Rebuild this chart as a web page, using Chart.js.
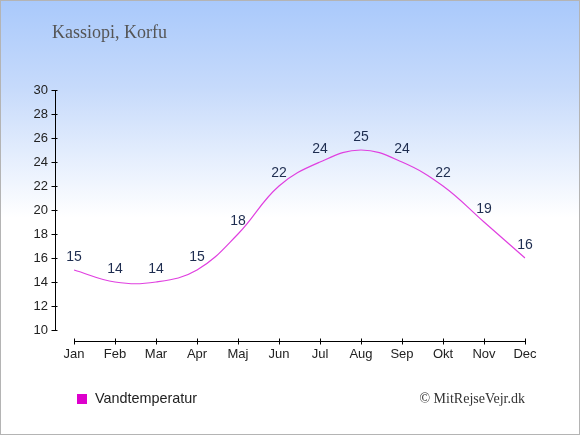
<!DOCTYPE html>
<html>
<head>
<meta charset="utf-8">
<script src="https://cdn.jsdelivr.net/npm/chart.js@4"></script>
<style>
html,body{margin:0;padding:0;background:#fff;}
#wrap{width:580px;height:435px;position:relative;}
</style>
</head>
<body>
<div id="wrap"><canvas id="c" width="580" height="435"></canvas></div>
<script>
const titleText = 'Kassiopi, Korfu';
const copyrightText = '\u00A9 MitRejseVejr.dk';
const months = ['Jan','Feb','Mar','Apr','Maj','Jun','Jul','Aug','Sep','Okt','Nov','Dec'];
const seriesLabel = 'Vandtemperatur';
const waterTemp = [15,14,14,15,18,22,24,25,24,22,19,16];
const yMin = 10, yMax = 30, yStep = 2;

const LINE_COLOR = '#e040e0';
const LEGEND_COLOR = '#dd00cc';
const TEXT_COLOR = '#222222';
const LABEL_COLOR = '#1e2d50';
const AXIS_GAP = 19;   // y-axis line offset left of first category
const XAXIS_GAP = 11;  // x-axis line offset below plot bottom

const decor = {
  id: 'decor',
  beforeDraw(chart) {
    const {ctx, width, height} = chart;
    const g = ctx.createLinearGradient(0, 0, 0, height);
    g.addColorStop(0, '#a9c9fb');
    g.addColorStop(0.2, '#c6dafb');
    g.addColorStop(0.5, '#ffffff');
    g.addColorStop(1, '#ffffff');
    ctx.save();
    ctx.fillStyle = g;
    ctx.fillRect(0, 0, width, height);
    ctx.strokeStyle = '#b4b4b4';
    ctx.lineWidth = 1;
    ctx.strokeRect(0.5, 0.5, width - 1, height - 1);
    ctx.restore();
  },
  afterDraw(chart) {
    const {ctx, chartArea, scales} = chart;
    const xs = scales.x, ys = scales.y;
    ctx.save();
    ctx.strokeStyle = '#000';
    ctx.lineWidth = 1;
    // y axis
    const ax = Math.round(chartArea.left - AXIS_GAP) + 0.5;
    ctx.beginPath();
    ctx.moveTo(ax, ys.getPixelForValue(yMax));
    ctx.lineTo(ax, ys.getPixelForValue(yMin));
    ys.ticks.forEach(t => {
      const y = Math.round(ys.getPixelForValue(t.value)) + 0.5;
      ctx.moveTo(ax - 4, y);
      ctx.lineTo(ax + 2, y);
    });
    ctx.stroke();
    // x axis
    const ay = Math.round(chartArea.bottom + XAXIS_GAP) + 0.5;
    ctx.beginPath();
    ctx.moveTo(xs.getPixelForValue(0), ay);
    ctx.lineTo(xs.getPixelForValue(months.length - 1), ay);
    months.forEach((m, i) => {
      const x = Math.round(xs.getPixelForValue(i)) + 0.5;
      ctx.moveTo(x, ay - 3);
      ctx.lineTo(x, ay + 3);
    });
    ctx.stroke();

    // data labels
    const meta = chart.getDatasetMeta(0);
    ctx.fillStyle = LABEL_COLOR;
    ctx.font = '14px "Liberation Sans", Arial, sans-serif';
    ctx.textAlign = 'center';
    ctx.textBaseline = 'middle';
    meta.data.forEach((pt, i) => {
      ctx.fillText(String(Math.round(waterTemp[i])), pt.x, pt.y - 13);
    });

    // title
    ctx.fillStyle = '#555555';
    ctx.font = '18px "Liberation Serif", "DejaVu Serif", serif';
    ctx.textAlign = 'left';
    ctx.textBaseline = 'alphabetic';
    ctx.fillText(titleText, 52, 38);

    // legend
    ctx.fillStyle = LEGEND_COLOR;
    ctx.fillRect(77, 394, 10, 10);
    ctx.fillStyle = TEXT_COLOR;
    ctx.font = '14.4px "Liberation Sans", Arial, sans-serif';
    ctx.textBaseline = 'middle';
    ctx.fillText(chart.data.datasets[0].label, 95, 399);

    // copyright
    ctx.fillStyle = '#333333';
    ctx.font = '14px "Liberation Serif", "DejaVu Serif", serif';
    ctx.textAlign = 'right';
    ctx.fillText(copyrightText, 525, 399);
    ctx.restore();
  }
};

new Chart(document.getElementById('c'), {
  type: 'line',
  data: {
    labels: months,
    datasets: [{
      label: seriesLabel,
      data: waterTemp,
      borderColor: LINE_COLOR,
      backgroundColor: LEGEND_COLOR,
      borderWidth: 1.2,
      pointRadius: 0,
      tension: 0.4,
      fill: false
    }]
  },
  options: {
    responsive: false,
    animation: false,
    devicePixelRatio: 1,
    layout: { padding: { top: 90, right: 55, bottom: 0, left: 0 } },
    plugins: { legend: { display: false }, title: { display: false }, tooltip: { enabled: false } },
    scales: {
      x: {
        type: 'category',
        offset: false,
        grid: { display: false, drawTicks: false },
        border: { display: false },
        ticks: {
          color: TEXT_COLOR, font: { family: '"Liberation Sans", Arial, sans-serif', size: 13 },
          padding: 17, maxRotation: 0, autoSkip: false
        },
        afterFit(s) { s.height = 105; }
      },
      y: {
        min: yMin, max: yMax,
        grid: { display: false, drawTicks: false },
        border: { display: false },
        ticks: {
          stepSize: yStep,
          color: TEXT_COLOR, font: { family: '"Liberation Sans", Arial, sans-serif', size: 13 },
          padding: 26
        },
        afterFit(s) { s.width = 74; }
      }
    }
  },
  plugins: [decor]
});
</script>
</body>
</html>
